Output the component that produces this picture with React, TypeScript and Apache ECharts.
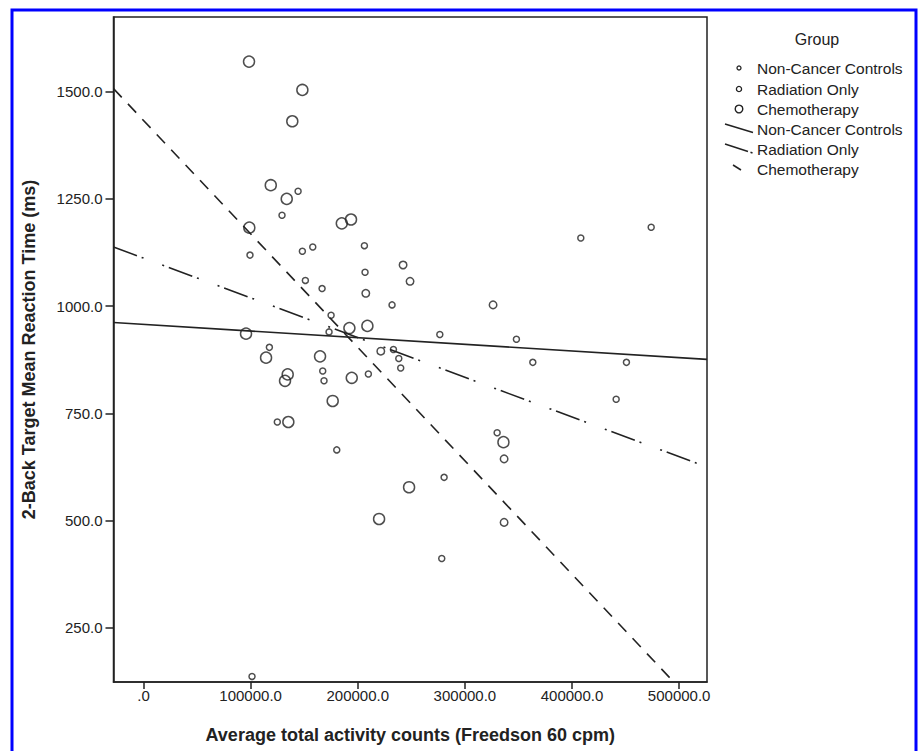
import React, { useEffect, useRef } from "react";
import * as echarts from "echarts";

// ---- data ----
const xTicks = [0, 100000, 200000, 300000, 400000, 500000];
const yTicks = [250, 500, 750, 1000, 1250, 1500];

const chemoX = [98500, 148300, 138900, 118800, 133700, 98800, 185100, 193700, 192200, 209000, 95700, 114400, 134600, 132100, 135200, 164800, 194400, 176600, 247900, 219900, 336000];
const chemoY = [1570, 1504, 1431, 1282, 1250, 1183, 1193, 1202, 949, 954, 936, 880, 841, 826, 730, 883, 833, 779, 578, 504, 683];

const radX = [242300, 248800, 207500, 221500, 326300, 336600, 336600];
const radY = [1096, 1058, 1030, 895, 1003, 644, 496];

const ctrlX = [144300, 129300, 148300, 158000, 99400, 151100, 166700, 206200, 206800, 232000, 408200, 473900, 173200, 175100, 276600, 348100, 117500, 233300, 238300, 240100, 209900, 167300, 168500, 363400, 450800, 441200, 124900, 180400, 330100, 280600, 278400, 101300];
const ctrlY = [1268, 1212, 1128, 1138, 1119, 1060, 1041, 1141, 1079, 1003, 1159, 1184, 940, 979, 934, 923, 904, 899, 878, 856, 842, 849, 826, 869, 869, 783, 730, 665, 705, 601, 412, 137];

const fitX = [-28000, 526000];
const ctrlFit = [962, 876];
const radFit = [1138, 625];
const chemoFit = [1507, 42];

const groupNames = ["Non-Cancer Controls", "Radiation Only", "Chemotherapy"];

const FONT = '"Liberation Sans", Arial, sans-serif';
const INK = "#222";

function zip(xs: number[], ys: number[]) {
  return xs.map((x, i) => [x, ys[i]]);
}

export default function App() {
  const ref = useRef<HTMLDivElement>(null);
  useEffect(() => {
    if (!ref.current) return;
    const chart = echarts.init(ref.current, null, { renderer: "svg" });
    const scatterStyle = (size: number) => ({
      type: "scatter" as const,
      symbol: "circle",
      symbolSize: size,
      itemStyle: { color: "rgba(0,0,0,0)", borderColor: INK, borderWidth: 1.5 },
      emphasis: { disabled: true },
    });
    const lineStyle = (dash: any) => ({
      type: "line" as const,
      symbol: "none",
      clip: true,
      lineStyle: { color: INK, width: 1.6, type: dash },
      emphasis: { disabled: true },
    });
    const legendRows = [68, 89, 109, 129, 149, 169];
    const graphic: any[] = [
      {
        type: "rect",
        shape: { x: 12, y: 10, width: 904, height: 770 },
        style: { fill: "none", stroke: "#0000ff", lineWidth: 3 },
        silent: true,
      },
      {
        type: "text",
        x: 817,
        y: 39,
        style: { text: "Group", font: `16px ${FONT}`, fill: INK, align: "center", verticalAlign: "middle" },
      },
      { type: "circle", shape: { cx: 739, cy: legendRows[0], r: 2 }, style: { fill: "none", stroke: INK, lineWidth: 1.3 } },
      { type: "circle", shape: { cx: 739, cy: legendRows[1], r: 2.6 }, style: { fill: "none", stroke: INK, lineWidth: 1.3 } },
      { type: "circle", shape: { cx: 739, cy: legendRows[2], r: 3.8 }, style: { fill: "none", stroke: INK, lineWidth: 1.4 } },
      { type: "line", shape: { x1: 725, y1: 124, x2: 753, y2: 132.5 }, style: { stroke: INK, lineWidth: 1.5 } },
      { type: "line", shape: { x1: 725, y1: 144, x2: 748, y2: 151.5 }, style: { stroke: INK, lineWidth: 1.5 } },
      { type: "line", shape: { x1: 750.5, y1: 152.3, x2: 752.5, y2: 153 }, style: { stroke: INK, lineWidth: 1.5 } },
      { type: "line", shape: { x1: 733, y1: 165, x2: 741, y2: 170 }, style: { stroke: INK, lineWidth: 1.5 } },
    ];
    const legendTexts = [...groupNames, ...groupNames];
    legendTexts.forEach((t, i) => {
      graphic.push({
        type: "text",
        x: 757,
        y: legendRows[i],
        style: { text: t, font: `15.5px ${FONT}`, fill: INK, align: "left", verticalAlign: "middle" },
      });
    });

    chart.setOption({
      animation: false,
      backgroundColor: "#fff",
      grid: {
        left: 113.5,
        top: 17,
        right: 212,
        bottom: 69,
        show: true,
        borderColor: INK,
        borderWidth: 1.5,
        backgroundColor: "#fff",
      },
      xAxis: {
        type: "value",
        min: -28000,
        max: 526000,
        name: "Average total activity counts (Freedson 60 cpm)",
        nameLocation: "middle",
        nameGap: 44,
        nameTextStyle: { fontFamily: FONT, fontWeight: "bold", fontSize: 18, color: INK },
        axisLine: { show: true, onZero: false, lineStyle: { color: INK, width: 1.5 } },
        axisTick: { show: true, length: 7, customValues: xTicks, lineStyle: { color: INK, width: 1.5 } },
        axisLabel: {
          customValues: xTicks,
          formatter: (v: number) => (v === 0 ? ".0" : v.toFixed(1)),
          fontFamily: FONT,
          fontSize: 15,
          color: INK,
          margin: 6,
        },
        splitLine: { show: false },
      },
      yAxis: {
        type: "value",
        min: 124,
        max: 1674,
        name: "2-Back Target Mean Reaction Time (ms)",
        nameLocation: "middle",
        nameRotate: 90,
        nameGap: 76,
        nameTextStyle: { fontFamily: FONT, fontWeight: "bold", fontSize: 18, color: INK },
        axisLine: { show: true, onZero: false, lineStyle: { color: INK, width: 1.5 } },
        axisTick: { show: true, length: 8, customValues: yTicks, lineStyle: { color: INK, width: 1.5 } },
        axisLabel: {
          customValues: yTicks,
          formatter: (v: number) => v.toFixed(1),
          fontFamily: FONT,
          fontSize: 15,
          color: INK,
          margin: 11,
        },
        splitLine: { show: false },
      },
      series: [
        { name: groupNames[0], data: zip(ctrlX, ctrlY), ...scatterStyle(6) },
        { name: groupNames[1], data: zip(radX, radY), ...scatterStyle(7.5) },
        { name: groupNames[2], data: zip(chemoX, chemoY), ...scatterStyle(11) },
        { name: groupNames[0] + " fit", data: zip(fitX, ctrlFit), ...lineStyle("solid") },
        { name: groupNames[1] + " fit", data: zip(fitX, radFit), ...lineStyle([25, 5, 2, 20, 2, 5]) },
        { name: groupNames[2] + " fit", data: zip(fitX, chemoFit), ...lineStyle([12, 9]) },
      ],
      graphic,
    });
    return () => chart.dispose();
  }, []);
  return (
    <div
      ref={ref}
      style={{ position: "fixed", left: 0, top: 0, width: 919, height: 751, background: "#fff" }}
    />
  );
}
